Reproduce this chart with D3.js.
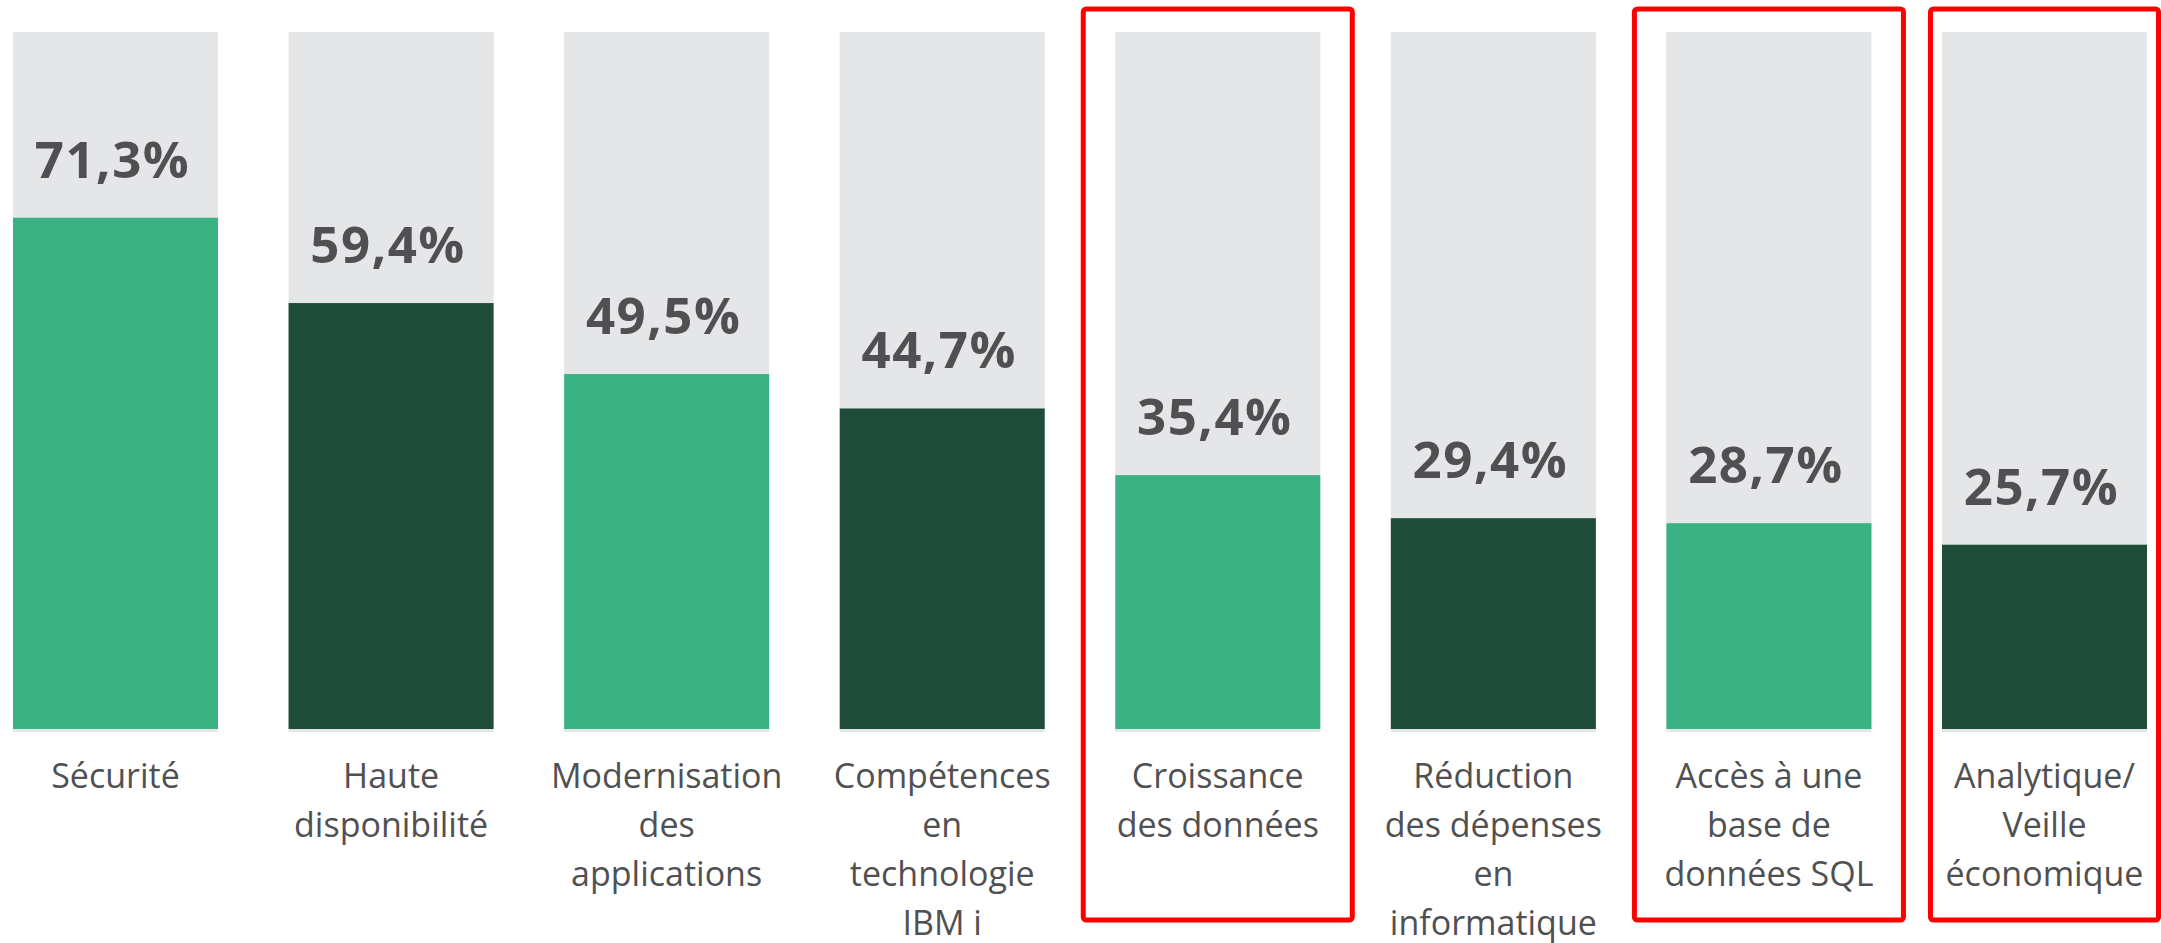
<!DOCTYPE html>
<html lang="fr">
<head>
<meta charset="utf-8">
<script src="https://cdn.jsdelivr.net/npm/d3@7"></script>
<style>
  html, body { margin: 0; padding: 0; background: #ffffff; }
  svg { display: block; }
</style>
</head>
<body>
<svg id="chart"></svg>
<script>
// Priorités informatiques — part des répondants (%)
const categories = [
  "Sécurité",
  "Haute\ndisponibilité",
  "Modernisation\ndes\napplications",
  "Compétences\nen\ntechnologie\nIBM i",
  "Croissance\ndes données",
  "Réduction\ndes dépenses\nen\ninformatique",
  "Accès à une\nbase de\ndonnées SQL",
  "Analytique/\nVeille\néconomique"
];
const values = [71.3, 59.4, 49.5, 44.7, 35.4, 29.4, 28.7, 25.7];
// Catégories encadrées en rouge
const highlighted = [
  "Croissance\ndes données",
  "Accès à une\nbase de\ndonnées SQL",
  "Analytique/\nVeille\néconomique"
];
// Valeur atteinte par le fond gris de chaque colonne
const trackMax = 97.2;

const W = 2161, H = 943;
const colors = { light: "#3bb283", dark: "#1f4d39", track: "#e5e6e8", text: "#505052", box: "#ff0000" };

const svg = d3.select("#chart").attr("width", W).attr("height", H);

const x = d3.scaleBand().domain(categories).range([13, 2147]).paddingInner(0.256).paddingOuter(0);
const y = d3.scaleLinear().domain([0, trackMax]).range([729, 32]);

const fr = d3.formatLocale({ decimal: ",", thousands: " ", grouping: [3], currency: ["", " €"] });
const fmt = v => fr.format(".1f")(v) + "%";

const data = categories.map((c, i) => ({ cat: c, value: values[i], i }));

// Fond gris
svg.append("g").selectAll("rect").data(data).join("rect")
  .attr("x", d => x(d.cat))
  .attr("width", x.bandwidth())
  .attr("y", y(trackMax))
  .attr("height", y(0) - y(trackMax) + 3)
  .attr("fill", colors.track);

// Barres
svg.append("g").selectAll("rect").data(data).join("rect")
  .attr("x", d => x(d.cat))
  .attr("width", x.bandwidth())
  .attr("y", d => y(d.value))
  .attr("height", d => y(0) - y(d.value))
  .attr("fill", d => d.i % 2 === 0 ? colors.light : colors.dark);

// Valeurs
svg.append("g").selectAll("text").data(data).join("text")
  .attr("x", d => x(d.cat) + x.bandwidth() / 2 - 3)
  .attr("y", d => y(d.value) - 40)
  .attr("text-anchor", "middle")
  .attr("font-family", "'Open Sans', 'DejaVu Sans', sans-serif")
  .attr("font-weight", 700)
  .attr("font-size", 51)
  .attr("letter-spacing", 1.5)
  .attr("fill", colors.text)
  .text(d => fmt(d.value));

// Libellés des catégories
const lineH = 49;
const labels = svg.append("g").selectAll("text").data(data).join("text")
  .attr("text-anchor", "middle")
  .attr("font-family", "'Open Sans', 'DejaVu Sans', sans-serif")
  .attr("font-size", 34)
  .attr("fill", colors.text);
labels.each(function (d) {
  const t = d3.select(this);
  d.cat.split("\n").forEach((line, k) => {
    t.append("tspan")
      .attr("x", x(d.cat) + x.bandwidth() / 2)
      .attr("y", 788 + k * lineH)
      .text(line);
  });
});

// Encadrés rouges
const sw = 5, padX = 32;
svg.append("g").selectAll("rect").data(highlighted).join("rect")
  .each(function (c) {
    let x0 = x(c) - padX, x1 = x(c) + x.bandwidth() + padX;
    const limit = W - sw / 2;
    if (x1 > limit) { x0 += x1 - limit; x1 = limit; }
    d3.select(this)
      .attr("x", x0).attr("width", x1 - x0)
      .attr("y", 9).attr("height", 911);
  })
  .attr("rx", 3)
  .attr("fill", "none")
  .attr("stroke", colors.box)
  .attr("stroke-width", sw);
</script>
</body>
</html>
